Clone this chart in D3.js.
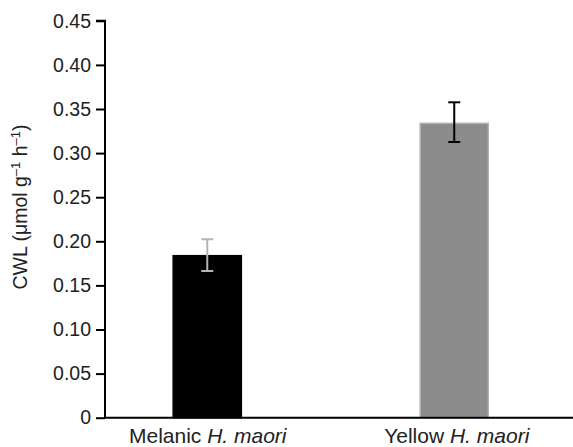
<!DOCTYPE html>
<html><head><meta charset="utf-8">
<script src="https://cdn.jsdelivr.net/npm/d3@7"></script>
<style>body{margin:0;background:#fff}svg{display:block}text{font-family:"Liberation Sans",Arial,sans-serif;fill:#222}</style>
</head><body>
<script>
const categories = ["Melanic", "Yellow"];
const values = [0.1837, 0.3338];
const errLow = [0.1663, 0.3126];
const errHigh = [0.2023, 0.3576];
const yTicks = [0, 0.05, 0.10, 0.15, 0.20, 0.25, 0.30, 0.35, 0.40, 0.45];
const fills = ["#000000", "#8c8c8c"];
const strokes = ["#000000", "#b4b4b4"];
const errColors = ["#b4b4b4", "#000000"];

const W = 573, H = 447;
const FS = "19.5px";
const svg = d3.select("body").append("svg").attr("width", W).attr("height", H);
const x0 = 105;
const y = d3.scaleLinear().domain([0, 0.45]).range([417.7, 20.8]);
const x = d3.scaleBand().domain(categories).range([x0, 556.5]).paddingInner(0.72).paddingOuter(0.274);

// y axis
const yAxis = d3.axisLeft(y).tickValues(yTicks).tickSize(9).tickPadding(5)
  .tickFormat(d => d === 0 ? "0" : d3.format(".2f")(d));
const gy = svg.append("g").attr("transform", `translate(${x0},0)`).call(yAxis);
gy.select(".domain").attr("stroke", "#000").attr("stroke-width", 2).attr("d", `M-9,${y(0.45)}H0V${y(0)}`);
gy.selectAll(".tick line").attr("stroke", "#000").attr("stroke-width", 2);
gy.selectAll(".tick text").style("font-size", FS).style("font-family", '"Liberation Sans",Arial,sans-serif').attr("fill", "#222");

// bars
svg.selectAll("rect.bar").data(categories).join("rect")
  .attr("x", d => x(d) + 0.5).attr("width", x.bandwidth() - 1)
  .attr("y", (d, i) => y(values[i])).attr("height", (d, i) => y(0) - y(values[i]))
  .attr("fill", (d, i) => fills[i]).attr("stroke", (d, i) => strokes[i]).attr("stroke-width", 1.5);

// x axis line
svg.append("line").attr("x1", x0 - 1).attr("x2", W).attr("y1", y(0)).attr("y2", y(0)).attr("stroke", "#000").attr("stroke-width", 2);

// error bars
const eb = svg.selectAll("g.err").data(categories).join("g")
  .attr("stroke", (d, i) => errColors[i]).attr("stroke-width", 2);
eb.append("line").attr("x1", d => x(d) + x.bandwidth() / 2).attr("x2", d => x(d) + x.bandwidth() / 2)
  .attr("y1", (d, i) => y(errHigh[i])).attr("y2", (d, i) => y(errLow[i]));
eb.append("line").attr("x1", d => x(d) + x.bandwidth() / 2 - 6).attr("x2", d => x(d) + x.bandwidth() / 2 + 6)
  .attr("y1", (d, i) => y(errHigh[i])).attr("y2", (d, i) => y(errHigh[i]));
eb.append("line").attr("x1", d => x(d) + x.bandwidth() / 2 - 6).attr("x2", d => x(d) + x.bandwidth() / 2 + 6)
  .attr("y1", (d, i) => y(errLow[i])).attr("y2", (d, i) => y(errLow[i]));

// category labels
const lab = svg.selectAll("text.cat").data(categories).join("text")
  .attr("x", (d, i) => x(d) + x.bandwidth() / 2 + (i === 1 ? 2.5 : 0.5)).attr("y", 442.5)
  .attr("text-anchor", "middle").style("font-size", "21px");
lab.append("tspan").text(d => d + " ");
lab.append("tspan").style("font-style", "italic").text("H. maori");

// y label
const yl = svg.append("text").attr("transform", "translate(27,207) rotate(-90)").attr("text-anchor", "middle").style("font-size", FS);
yl.append("tspan").text("CWL (\u03bcmol g");
yl.append("tspan").attr("dy", -7).style("font-size", "13px").text("\u20131");
yl.append("tspan").attr("dy", 7).text(" h");
yl.append("tspan").attr("dy", -7).style("font-size", "13px").text("\u20131");
yl.append("tspan").attr("dy", 7).text(")");
</script>
</body></html>
